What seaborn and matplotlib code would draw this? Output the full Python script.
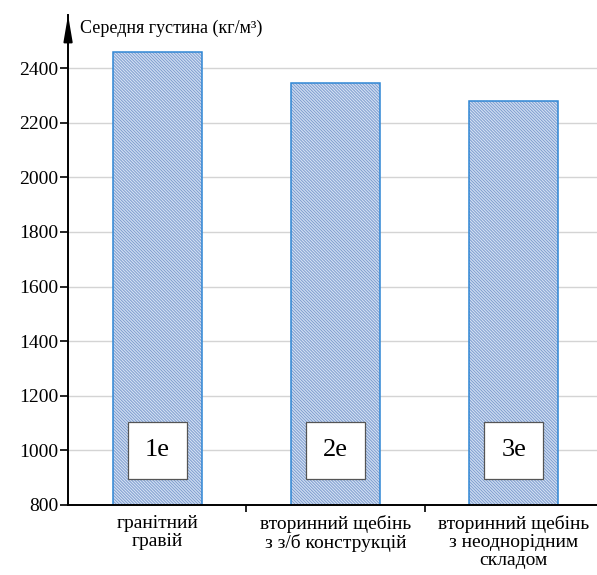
import matplotlib
matplotlib.use("Agg")
import matplotlib.pyplot as plt
import matplotlib.patches as mpatches
import pandas as pd
import seaborn as sns

categories = ["гранітний\nгравій", "вторинний щебінь\nз з/б конструкцій", "вторинний щебінь\nз неоднорідним\nскладом"]
values = [2460, 2345, 2280]
box_labels = ["1e", "2e", "3e"]
y_ticks = [800, 1000, 1200, 1400, 1600, 1800, 2000, 2200, 2400]
y_label = "Середня густина (кг/м³)"

df = pd.DataFrame({"cat": categories, "val": values})

sns.set_theme(style="white")
plt.rcParams["font.family"] = ["Liberation Serif", "DejaVu Serif"]
plt.rcParams["hatch.linewidth"] = 0.7

fig = plt.figure(figsize=(5.97, 5.75), dpi=100)
ax = fig.add_axes([0.114, 0.122, 0.896, 0.852])

ax.set_axisbelow(True)
ax.yaxis.grid(True, color="#d4d4d4", linewidth=1)

# hatched fill
sns.barplot(ax=ax, data=df, x="cat", y="val", width=0.5, saturation=1,
            color="#d2e0f3", edgecolor="#7f9dcf", hatch="\\" * 11, linewidth=0)
# outline
sns.barplot(ax=ax, data=df, x="cat", y="val", width=0.5, saturation=1,
            fill=False, edgecolor="#2f86d4", linewidth=1.1)

ax.set_ylim(800, 2595)
ax.set_xlim(-0.5, 2.5)
ax.set_yticks(y_ticks)
ax.set_xlabel("")
ax.set_ylabel("")

for s in ["top", "right"]:
    ax.spines[s].set_visible(False)
for s in ["left", "bottom"]:
    ax.spines[s].set_color("black")
    ax.spines[s].set_linewidth(1.4)

ax.tick_params(axis="y", which="both", left=True, length=6, width=1.2,
               labelsize=14, colors="black", pad=1)
# category ticks at boundaries, labels centred
ax.set_xticks([i + 0.5 for i in range(len(categories))], minor=False)
ax.set_xticklabels([])
ax.set_xticks(range(len(categories)), minor=True)
ax.set_xticklabels(categories, minor=True, fontsize=14, linespacing=1.08)
ax.tick_params(axis="x", which="major", bottom=True, length=5, width=1.2, colors="black")
ax.tick_params(axis="x", which="minor", bottom=False, length=0, pad=7, labelcolor="black")

# arrow at top of y axis
ax.annotate("", xy=(0, 1.0), xytext=(0, 0.94), xycoords="axes fraction",
            arrowprops=dict(arrowstyle="-|>,head_length=1.3,head_width=0.22",
                            color="black", lw=1.4, shrinkA=0, shrinkB=0))
ax.text(0.022, 0.963, y_label, transform=ax.transAxes, fontsize=13,
        ha="left", va="baseline", color="black")

# label boxes
for i, lab in enumerate(box_labels):
    ax.add_patch(mpatches.Rectangle((i - 0.165, 895), 0.33, 210,
                                    facecolor="white", edgecolor="#555555",
                                    linewidth=0.9, zorder=5))
    ax.text(i, 1000, lab, ha="center", va="center", fontsize=19,
            color="black", zorder=6)

fig.savefig("out.png", dpi=100)
